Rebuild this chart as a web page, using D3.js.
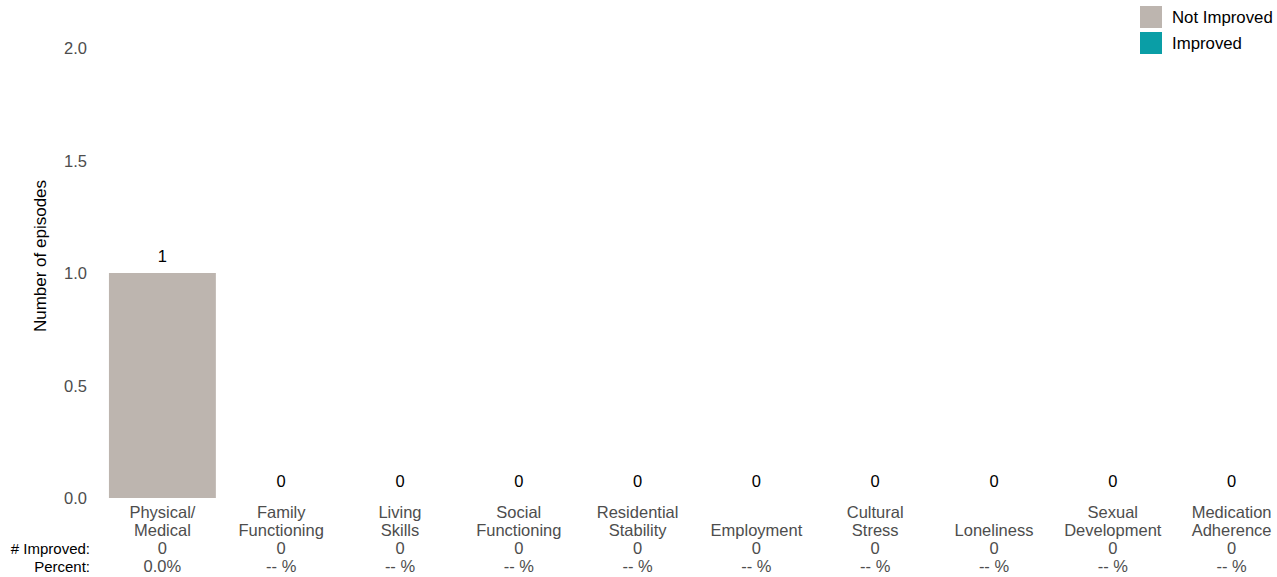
<!DOCTYPE html>
<html><head><meta charset="utf-8">
<script src="https://cdn.jsdelivr.net/npm/d3@7"></script>
<style>body{margin:0;background:#fff;} text{font-family:"Liberation Sans",Arial,sans-serif;}</style>
</head><body><svg id="c" width="1277" height="577"></svg>
<script>
const categories = [["Physical/","Medical"],["Family","Functioning"],["Living","Skills"],["Social","Functioning"],["Residential","Stability"],["Employment"],["Cultural","Stress"],["Loneliness"],["Sexual","Development"],["Medication","Adherence"]];
const notImproved = [1,0,0,0,0,0,0,0,0,0];
const improved = [0,0,0,0,0,0,0,0,0,0];
const percentLabels = ["0.0%","-- %","-- %","-- %","-- %","-- %","-- %","-- %","-- %","-- %"];
const yTicks = [0,0.5,1,1.5,2];
const seriesNames = ["Not Improved","Improved"];
const colors = ["#BDB5AF","#0A9EA6"];

const svg = d3.select("#c");
const keys = categories.map(c=>c.join(" "));
const x = d3.scaleBand().domain(keys).range([103,1291]).paddingInner(0.1).paddingOuter(0.05);
const y = d3.scaleLinear().domain([0,2]).range([498,48]);

svg.append("g").selectAll("text").data(yTicks).join("text")
  .attr("x",87).attr("y",d=>y(d)+6).attr("text-anchor","end")
  .attr("font-size",16.5).attr("fill","#4d4d4d").text(d=>d.toFixed(1));

svg.append("text").attr("transform","translate(46,256) rotate(-90)")
  .attr("text-anchor","middle").attr("font-size",17).attr("fill","#000").text("Number of episodes");

const data = keys.map((k,i)=>({k, ni:notImproved[i], im:improved[i]}));
svg.append("g").selectAll("rect.ni").data(data).join("rect")
  .attr("x",d=>x(d.k)).attr("width",x.bandwidth())
  .attr("y",d=>y(d.ni)).attr("height",d=>y(0)-y(d.ni)).attr("fill",colors[0]);
svg.append("g").selectAll("rect.im").data(data).join("rect")
  .attr("x",d=>x(d.k)).attr("width",x.bandwidth())
  .attr("y",d=>y(d.ni+d.im)).attr("height",d=>y(d.ni)-y(d.ni+d.im)).attr("fill",colors[1]);

svg.append("g").selectAll("text").data(data).join("text")
  .attr("x",d=>x(d.k)+x.bandwidth()/2).attr("y",d=>y(d.ni+d.im)-11)
  .attr("text-anchor","middle").attr("font-size",16.5).attr("fill","#000").text(d=>d.ni+d.im);

const g = svg.append("g");
categories.forEach((c,i)=>{
  const cx = x(keys[i])+x.bandwidth()/2;
  const lines = c.length===2 ? c : [c[0]];
  const y0 = c.length===2 ? 518 : 536;
  lines.forEach((l,j)=>g.append("text").attr("x",cx).attr("y",y0+j*18).attr("text-anchor","middle")
    .attr("font-size",16.5).attr("fill","#4d4d4d").text(l));
  g.append("text").attr("x",cx).attr("y",554).attr("text-anchor","middle").attr("font-size",16.5).attr("fill","#4d4d4d").text(improved[i]);
  g.append("text").attr("x",cx).attr("y",572).attr("text-anchor","middle").attr("font-size",16.5).attr("fill","#4d4d4d").text(percentLabels[i]);
});
g.append("text").attr("x",90).attr("y",554).attr("text-anchor","end").attr("font-size",15).attr("fill","#000").text("# Improved:");
g.append("text").attr("x",90).attr("y",572).attr("text-anchor","end").attr("font-size",15).attr("fill","#000").text("Percent:");

const lg = svg.append("g");
seriesNames.forEach((s,i)=>{
  lg.append("rect").attr("x",1140).attr("y",6+i*26).attr("width",22).attr("height",22).attr("fill",colors[i]);
  lg.append("text").attr("x",1172).attr("y",23+i*26).attr("font-size",16.8).attr("fill","#000").text(s);
});
</script></body></html>
